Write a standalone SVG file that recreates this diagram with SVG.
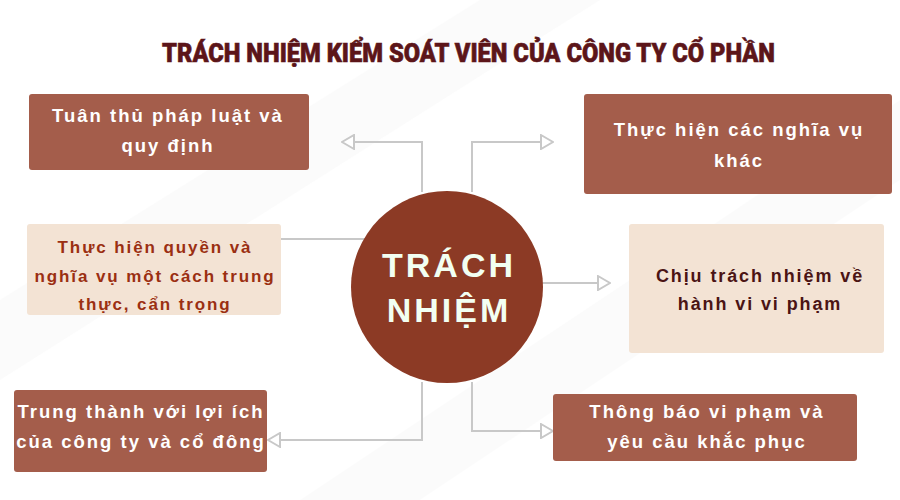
<svg xmlns="http://www.w3.org/2000/svg" width="900" height="500" viewBox="0 0 900 500">
  <defs>
    <style>
      .bg { fill: #ffffff; }
      .band { fill: #f3f3f3; }
      .title { font-family: Roboto, "Liberation Sans", sans-serif; font-weight: 900; font-size: 25px; fill: #5c1519; stroke: #5c1519; stroke-width: 0.6px; }
      .dark { fill: #a45d4b; }
      .light { fill: #f3e3d4; }
      .t-white { font-family: "Liberation Sans", Arial, sans-serif; font-weight: 700; font-size: 18.5px; fill: #ffffff; letter-spacing: 2px; text-anchor: middle; }
      .t-red { font-family: "Liberation Sans", Arial, sans-serif; font-weight: 700; font-size: 17px; fill: #9b2f12; letter-spacing: 1.9px; text-anchor: middle; }
      .t-brown { font-family: "Liberation Sans", Arial, sans-serif; font-weight: 700; font-size: 18px; fill: #4b1414; letter-spacing: 1.9px; text-anchor: middle; }
      .hub { fill: #8c3a25; }
      .t-hub { font-family: "Liberation Sans", Arial, sans-serif; font-weight: 700; font-size: 34px; fill: #f2fff2; letter-spacing: 3px; text-anchor: middle; }
      .conn { fill: none; stroke: #c8c8c8; stroke-width: 2; }
    </style>
    <marker id="arrow" viewBox="0 0 14 16" refX="13" refY="8" markerWidth="14" markerHeight="16" markerUnits="userSpaceOnUse" orient="auto">
      <path d="M1,1 L13,8 L1,15 Z" fill="#ffffff" stroke="#c8c8c8" stroke-width="2" stroke-linejoin="miter"/>
    </marker>
  </defs>

  <rect class="bg" x="0" y="0" width="900" height="500"/>
  <polygon class="band" points="0,300 0,380 600,0 480,0" opacity="0.35"/>
  <polygon class="band" points="300,500 420,500 900,180 900,100" opacity="0.35"/>

  <text class="title" x="162" y="62" textLength="613" lengthAdjust="spacingAndGlyphs">TRÁCH NHIỆM KIỂM SOÁT VIÊN CỦA CÔNG TY CỔ PHẦN</text>

  <g id="connectors">
    <path class="conn" d="M422,192 V142 H342" marker-end="url(#arrow)"/>
    <path class="conn" d="M472,192 V142 H553" marker-end="url(#arrow)"/>
    <path class="conn" d="M281,239 H366"/>
    <path class="conn" d="M541,283 H610" marker-end="url(#arrow)"/>
    <path class="conn" d="M422,382 V440 H268" marker-end="url(#arrow)"/>
    <path class="conn" d="M472,382 V431 H553" marker-end="url(#arrow)"/>
  </g>

  <g id="hub">
    <circle class="hub" cx="447" cy="287" r="96"/>
    <text class="t-hub" x="449" y="277">TRÁCH</text>
    <text class="t-hub" x="449" y="322">NHIỆM</text>
  </g>

  <g id="node-tuan-thu">
    <rect class="dark" x="29" y="94" width="280" height="76" rx="3"/>
    <text class="t-white" x="168" y="122">Tuân thủ pháp luật và</text>
    <text class="t-white" x="168" y="152">quy định</text>
  </g>

  <g id="node-thuc-hien-quyen">
    <rect class="light" x="27" y="224" width="254" height="91" rx="3"/>
    <text class="t-red" x="155" y="253">Thực hiện quyền và</text>
    <text class="t-red" x="155" y="282">nghĩa vụ một cách trung</text>
    <text class="t-red" x="155" y="310">thực, cẩn trọng</text>
  </g>

  <g id="node-trung-thanh">
    <rect class="dark" x="14" y="390" width="253" height="82" rx="3"/>
    <text class="t-white" x="141" y="418">Trung thành với lợi ích</text>
    <text class="t-white" x="141" y="448">của công ty và cổ đông</text>
  </g>

  <g id="node-nghia-vu-khac">
    <rect class="dark" x="584" y="94" width="308" height="100" rx="3"/>
    <text class="t-white" x="739" y="136">Thực hiện các nghĩa vụ</text>
    <text class="t-white" x="739" y="167">khác</text>
  </g>

  <g id="node-chiu-trach-nhiem">
    <rect class="light" x="629" y="224" width="255" height="129" rx="3"/>
    <text class="t-brown" x="760" y="282">Chịu trách nhiệm về</text>
    <text class="t-brown" x="760" y="310">hành vi vi phạm</text>
  </g>

  <g id="node-thong-bao">
    <rect class="dark" x="553" y="394" width="304" height="67" rx="3"/>
    <text class="t-white" x="707" y="418">Thông báo vi phạm và</text>
    <text class="t-white" x="707" y="448">yêu cầu khắc phục</text>
  </g>
</svg>
